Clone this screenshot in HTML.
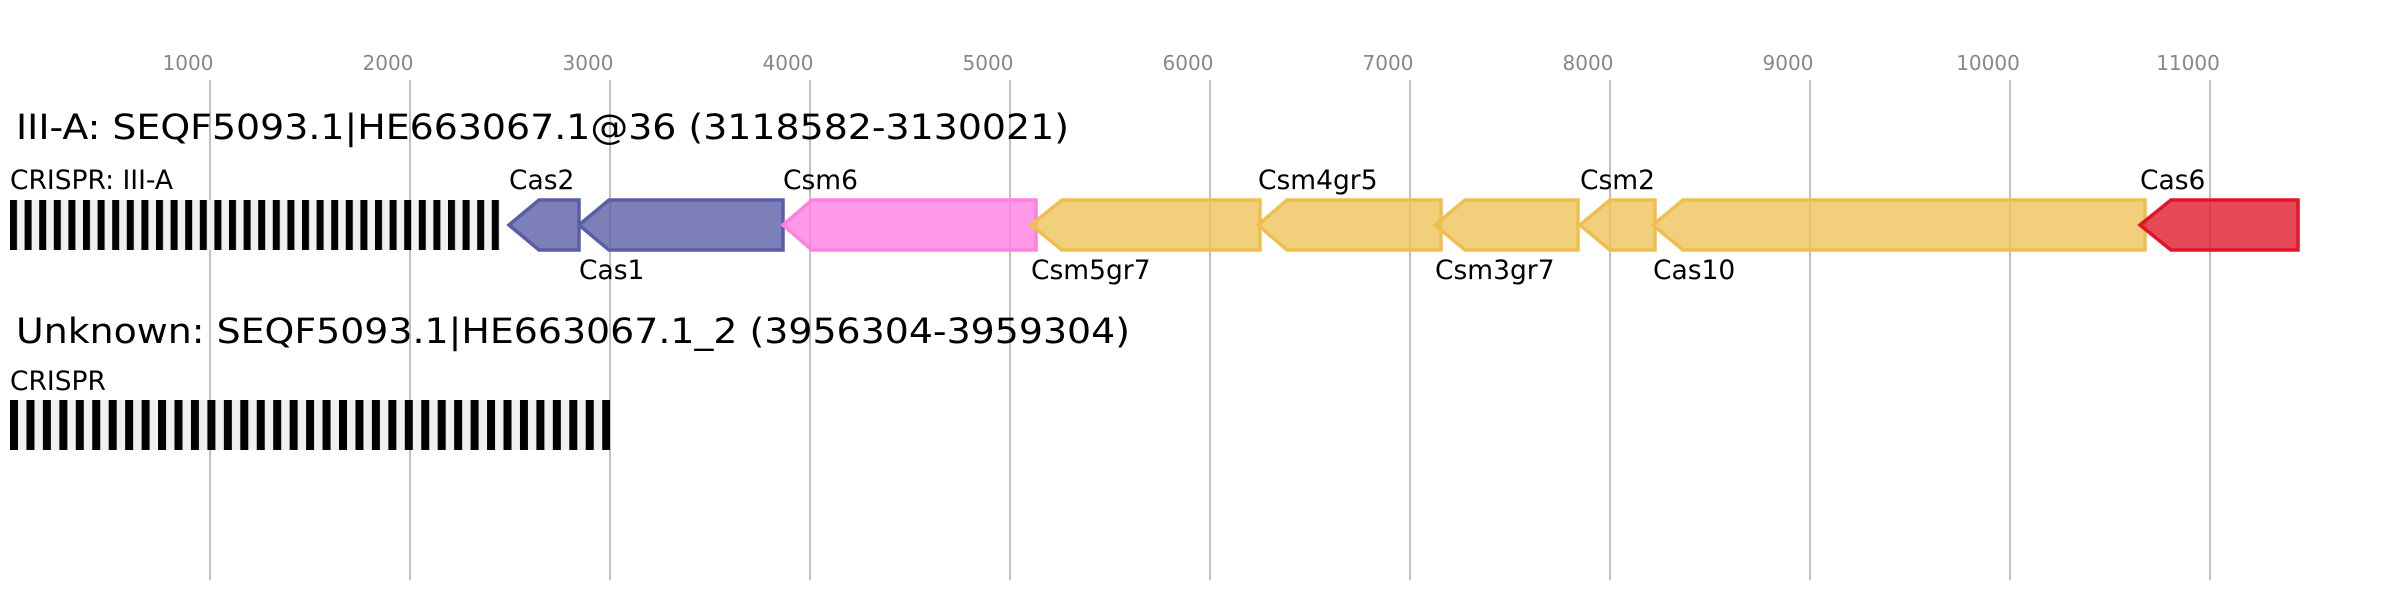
<!DOCTYPE html>
<html><head><meta charset="utf-8"><style>html,body{margin:0;padding:0;background:#fff}svg{display:block}</style></head>
<body>
<svg width="2388" height="600" viewBox="0 0 2388 600" xmlns="http://www.w3.org/2000/svg" font-family="DejaVu Sans, Liberation Sans, sans-serif">
<defs>
<pattern id="cr1" x="10" y="0" width="14.6" height="10" patternUnits="userSpaceOnUse"><rect width="14.6" height="10" fill="#f0f0f0"/><rect width="7" height="10" fill="#000"/></pattern>
<pattern id="cr2" x="10" y="0" width="16.45" height="10" patternUnits="userSpaceOnUse"><rect width="16.45" height="10" fill="#f0f0f0"/><rect width="8" height="10" fill="#000"/></pattern>
</defs>
<g stroke="#c0c0c0" stroke-width="2">
<line x1="210" y1="80" x2="210" y2="580"/><line x1="410" y1="80" x2="410" y2="580"/><line x1="610" y1="80" x2="610" y2="580"/><line x1="810" y1="80" x2="810" y2="580"/><line x1="1010" y1="80" x2="1010" y2="580"/><line x1="1210" y1="80" x2="1210" y2="580"/><line x1="1410" y1="80" x2="1410" y2="580"/><line x1="1610" y1="80" x2="1610" y2="580"/><line x1="1810" y1="80" x2="1810" y2="580"/><line x1="2010" y1="80" x2="2010" y2="580"/><line x1="2210" y1="80" x2="2210" y2="580"/>
</g>
<g fill="#888" font-size="20" text-anchor="middle">
<text x="188" y="70">1000</text><text x="388" y="70">2000</text><text x="588" y="70">3000</text><text x="788" y="70">4000</text><text x="988" y="70">5000</text><text x="1188" y="70">6000</text><text x="1388" y="70">7000</text><text x="1588" y="70">8000</text><text x="1788" y="70">9000</text><text x="1988" y="70">10000</text><text x="2188" y="70">11000</text>
</g>
<text x="16" y="139" font-size="35" fill="#000" textLength="1053" lengthAdjust="spacingAndGlyphs">III-A: SEQF5093.1|HE663067.1@36 (3118582-3130021)</text>
<text x="10" y="189" font-size="26.5" fill="#000">CRISPR: III-A</text>
<rect x="10" y="200" width="490" height="50" fill="url(#cr1)"/>
<g stroke-width="3.5" fill-opacity="0.8">
<polygon points="509,225 539,200 579,200 579,250 539,250" fill="#5c5fa6" stroke="#5a5ea8"/>
<polygon points="579,225 609,200 783,200 783,250 609,250" fill="#5c5fa6" stroke="#5a5ea8"/>
<polygon points="783,225 812,200 1036,200 1036,250 812,250" fill="#ff80e2" stroke="#ff80e0"/>
<polygon points="1031,225 1062,200 1260,200 1260,250 1062,250" fill="#efc35a" stroke="#eebf4f"/>
<polygon points="1258,225 1287,200 1441,200 1441,250 1287,250" fill="#efc35a" stroke="#eebf4f"/>
<polygon points="1435,225 1465,200 1578,200 1578,250 1465,250" fill="#efc35a" stroke="#eebf4f"/>
<polygon points="1580,225 1610,200 1655,200 1655,250 1610,250" fill="#efc35a" stroke="#eebf4f"/>
<polygon points="1653,225 1683,200 2145,200 2145,250 1683,250" fill="#efc35a" stroke="#eebf4f"/>
<polygon points="2140,225 2171,200 2298,200 2298,250 2171,250" fill="#e01c2e" stroke="#e0142a"/>
</g>
<g font-size="26.5" fill="#000">
<text x="509" y="189">Cas2</text><text x="579" y="279">Cas1</text><text x="783" y="189">Csm6</text><text x="1031" y="279">Csm5gr7</text><text x="1258" y="189">Csm4gr5</text><text x="1435" y="279">Csm3gr7</text><text x="1580" y="189">Csm2</text><text x="1653" y="279">Cas10</text><text x="2140" y="189">Cas6</text>
</g>
<text x="16" y="343" font-size="35" fill="#000" textLength="1114" lengthAdjust="spacingAndGlyphs">Unknown: SEQF5093.1|HE663067.1_2 (3956304-3959304)</text>
<text x="10" y="390" font-size="26.5" fill="#000">CRISPR</text>
<rect x="10" y="400" width="600" height="50" fill="url(#cr2)"/>
</svg>
</body></html>
